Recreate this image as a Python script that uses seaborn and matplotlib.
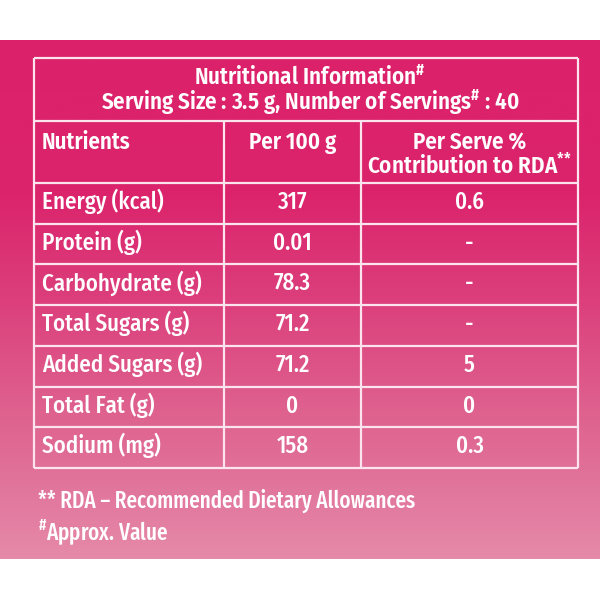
import numpy as np
import matplotlib
matplotlib.use("Agg")
import matplotlib.pyplot as plt
from matplotlib import font_manager
from matplotlib.colors import LinearSegmentedColormap
import seaborn as sns

# ---- data ----
title_lines = ["Nutritional Information$^{\\#}$",
               "Serving Size : 3.5 g, Number of Servings$^{\\#}$ : 40"]
col_headers = ["Nutrients", "Per 100 g", "Per Serve %\nContribution to RDA$^{{*}{*}}$"]
nutrients = ["Energy (kcal)", "Protein (g)", "Carbohydrate (g)", "Total Sugars (g)",
             "Added Sugars (g)", "Total Fat (g)", "Sodium (mg)"]
per_100g = ["317", "0.01", "78.3", "71.2", "71.2", "0", "158"]
per_serve_rda = ["0.6", "-", "-", "-", "5", "0", "0.3"]
footnotes = ["** RDA \u2013 Recommended Dietary Allowances", "$^{\\#}$Approx. Value"]

sns.set_theme(style="white")
names = {f.name for f in font_manager.fontManager.ttflist}
fam = "DejaVu Sans"
for cand in ["Fira Sans Condensed", "PT Sans Narrow", "Roboto Condensed", "Liberation Sans Narrow"]:
    if cand in names:
        fam = cand
        break
fam_fn = "Fira Sans Extra Condensed" if "Fira Sans Extra Condensed" in names else fam
plt.rcParams["font.family"] = [fam, "DejaVu Sans"]
plt.rcParams["mathtext.fontset"] = "custom"
plt.rcParams["mathtext.default"] = "regular"
plt.rcParams["mathtext.rm"] = fam
plt.rcParams["mathtext.bf"] = fam + ":bold"

fig = plt.figure(figsize=(6, 6), dpi=100)
ax = fig.add_axes([0, 0, 1, 1])
ax.set_xlim(0, 600)
ax.set_ylim(600, 0)
ax.axis("off")
fig.patch.set_facecolor("white")

# background gradient
cmap = LinearSegmentedColormap.from_list(
    "pinkgrad",
    [(0.0, "#db2169"), (0.30, "#db246c"), (0.50, "#dc3f7c"),
     (0.70, "#de5f8d"), (0.85, "#e1739a"), (1.0, "#e68aa9")])
grad = np.linspace(0, 1, 256).reshape(-1, 1)
ax.imshow(grad, cmap=cmap, aspect="auto", extent=[0, 600, 559, 40], zorder=0)

# table geometry
left, right = 34, 578
top, head_bot, colhead_bot, bottom = 58, 121, 183, 468
col_x = [left, 224, 361, right]
n = len(nutrients)
row_edges = np.linspace(colhead_bot, bottom, n + 1)
lc = "#fbe4ee"
lw = 1.6
for y in [top, head_bot, colhead_bot] + list(row_edges[1:]):
    ax.hlines(y, left, right, color=lc, lw=lw, zorder=2)
ax.vlines([left, right], top, bottom, color=lc, lw=lw, zorder=2)
ax.vlines(col_x[1:3], head_bot, bottom, color=lc, lw=lw, zorder=2)

fs = 16.5
hw = 600
bw = 500
tc = "white"
cx = (left + right) / 2 + 4
ax.text(cx, 110, "\n".join(title_lines), ha="center", va="baseline", fontsize=fs,
        fontweight=hw, color=tc, linespacing=0.92, multialignment="center")

centers = [(col_x[i] + col_x[i + 1]) / 2 for i in range(3)]
ax.text(42, 149, col_headers[0], ha="left", va="baseline", fontsize=fs, fontweight=hw, color=tc)
ax.text(centers[1], 149, col_headers[1], ha="center", va="baseline", fontsize=fs, fontweight=hw, color=tc)
ax.text(centers[2], 174, col_headers[2], ha="center", va="baseline", fontsize=fs, fontweight=hw,
        color=tc, linespacing=0.95, multialignment="center")

for i in range(n):
    yb = row_edges[i] + 26
    ax.text(42, yb, nutrients[i], ha="left", va="baseline", fontsize=fs, fontweight=bw, color=tc)
    ax.text(centers[1], yb, per_100g[i], ha="center", va="baseline", fontsize=fs, fontweight=bw, color=tc)
    ax.text(centers[2], yb, per_serve_rda[i], ha="center", va="baseline", fontsize=fs, fontweight=bw, color=tc)

ax.text(38, 508, footnotes[0], ha="left", va="baseline", fontsize=fs, fontweight=bw, color=tc,
        family=[fam_fn, "DejaVu Sans"])
ax.text(38, 540, footnotes[1], ha="left", va="baseline", fontsize=fs, fontweight=bw, color=tc,
        family=[fam_fn, "DejaVu Sans"])

fig.savefig("out.png", dpi=100, facecolor="white")
